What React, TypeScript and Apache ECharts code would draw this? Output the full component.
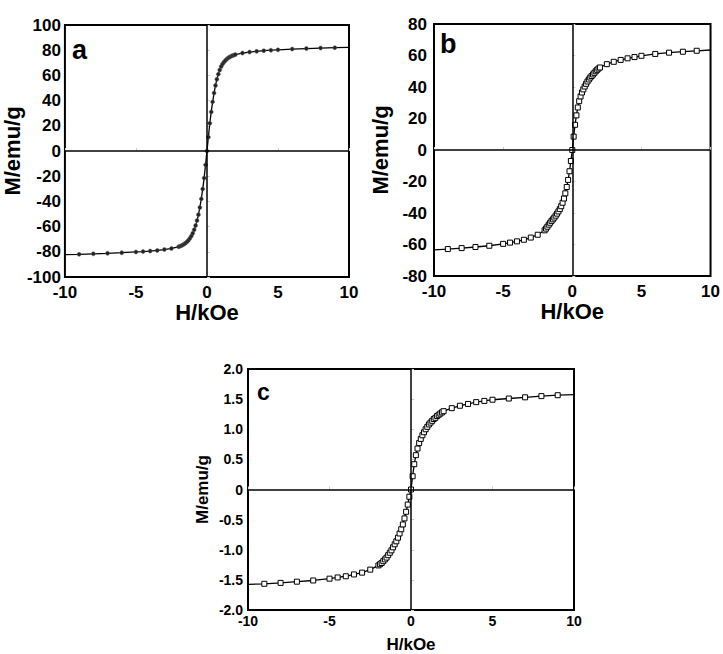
import React, { useEffect, useRef } from 'react';
import * as echarts from 'echarts';

const H = [-10, -9, -8, -7, -6, -5, -4.5, -4, -3.5, -3, -2.5,
  -2, -1.9, -1.8, -1.7, -1.6, -1.5, -1.4, -1.3, -1.2, -1.1, -1, -0.9, -0.8, -0.7, -0.6, -0.5, -0.4, -0.3, -0.2, -0.1,
  0,
  0.1, 0.2, 0.3, 0.4, 0.5, 0.6, 0.7, 0.8, 0.9, 1, 1.1, 1.2, 1.3, 1.4, 1.5, 1.6, 1.7, 1.8, 1.9, 2,
  2.5, 3, 3.5, 4, 4.5, 5, 6, 7, 8, 9, 10];

const M_A = [-82.3, -82, -81.6, -81.2, -80.7, -80.1, -79.8, -79.4, -78.9, -78.2, -77.3,
  -76, -75.6, -75.1, -74.5, -73.8, -73, -72, -70.8, -69.3, -67.4, -65.2, -62.5, -59.2, -55.2, -50.5, -44.8, -38, -30.2, -21.5, -11,
  0,
  11, 22, 31, 39, 46, 52, 57, 61, 64.3, 67, 69, 70.6, 71.9, 73, 73.9, 74.6, 75.2, 75.7, 76.1, 76.5,
  77.7, 78.5, 79.1, 79.6, 80, 80.3, 80.9, 81.3, 81.7, 82, 82.3];

const M_B = [-63.4, -62.9, -62.3, -61.6, -60.8, -59.6, -58.8, -58, -57, -55.6, -53.8,
  -51, -49.9, -48.7, -47.4, -46.2, -45, -44, -42.9, -41.7, -40.4, -39, -37.5, -35.7, -33.5, -30.8, -27.5, -23.5, -19, -13.5, -7,
  0,
  8.5, 16, 22, 27, 31, 34, 36.5, 38.5, 40.3, 42, 43.5, 44.8, 46, 47, 48, 49, 50, 50.9, 51.7, 52.4,
  54.5, 56, 57.2, 58.2, 59, 59.8, 61, 61.8, 62.4, 63, 63.5];

const M_C = [-1.575, -1.565, -1.55, -1.53, -1.51, -1.48, -1.46, -1.44, -1.41, -1.38, -1.33,
  -1.26, -1.24, -1.22, -1.19, -1.16, -1.13, -1.09, -1.05, -1.01, -0.96, -0.91, -0.86, -0.8, -0.73, -0.66, -0.58, -0.48, -0.37, -0.25, -0.12,
  0,
  0.22, 0.42, 0.57, 0.68, 0.77, 0.84, 0.9, 0.95, 1.0, 1.04, 1.08, 1.11, 1.14, 1.17, 1.19, 1.22, 1.24, 1.26, 1.28, 1.3,
  1.35, 1.39, 1.42, 1.45, 1.47, 1.49, 1.51, 1.53, 1.55, 1.565, 1.575];

const PANEL_LETTERS = ['a', 'b', 'c'];
const X_NAME = 'H/kOe';
const Y_NAME = 'M/emu/g';

const FONT = '"Liberation Sans", Arial, sans-serif';

function makeData(m: number[]) {
  return H.map((h, i) => (Math.abs(h) === 10 ? { value: [h, m[i]], symbol: 'none' } : { value: [h, m[i]] }));
}

export default function App() {
  const ref = useRef<HTMLDivElement>(null);
  useEffect(() => {
    const chart = echarts.init(ref.current!, null, { renderer: 'svg' });
    const grids = [
      { left: 63, top: 25, width: 286, height: 252 },
      { left: 434, top: 24, width: 287, height: 252 },
      { left: 248, top: 369, width: 326, height: 244 },
    ];
    const lblSize = [17, 17, 14];
    const nameSize = [22, 22, 17];
    const yMin = [-100, -80, -2];
    const yMax = [100, 80, 2];
    const yInt = [20, 20, 0.5];
    const yLabelMargin = [4, 7, 5];
    const yNameGap = [41, 43, 37];
    const xLabelMargin = [7, 7, 4];
    const xNameGap = [22, 22, 26];
    const datasets = [M_A, M_B, M_C];

    const option: any = {
      animation: false,
      backgroundColor: '#fff',
      grid: grids.map((g) => ({ ...g, show: true, borderColor: '#000', borderWidth: 2, backgroundColor: 'transparent', containLabel: false })),
      xAxis: grids.map((_, i) => ({
        type: 'value', gridIndex: i, min: -10, max: 10, interval: 5,
        axisLine: { show: false },
        axisTick: { show: true, inside: true, length: 3, lineStyle: { color: '#ccc' } },
        axisLabel: { color: '#000', fontWeight: 'bold', fontSize: lblSize[i], fontFamily: FONT, margin: xLabelMargin[i] },
        splitLine: { show: false },
        name: X_NAME, nameLocation: 'middle', nameGap: xNameGap[i],
        nameTextStyle: { color: '#000', fontWeight: 'bold', fontSize: nameSize[i], fontFamily: FONT },
      })),
      yAxis: grids.map((_, i) => ({
        type: 'value', gridIndex: i, min: yMin[i], max: yMax[i], interval: yInt[i],
        axisLine: { show: false },
        axisTick: { show: true, inside: true, length: 3, lineStyle: { color: '#ccc' } },
        axisLabel: {
          color: '#000', fontWeight: 'bold', fontSize: lblSize[i], fontFamily: FONT, margin: yLabelMargin[i],
          formatter: i === 2 ? (v: number) => (v === 0 ? '0' : v.toFixed(1)) : undefined,
        },
        splitLine: { show: false },
        name: Y_NAME, nameLocation: 'middle', nameGap: yNameGap[i],
        nameTextStyle: { color: '#000', fontWeight: 'bold', fontSize: nameSize[i], fontFamily: FONT },
      })),
      series: datasets.map((m, i) => ({
        type: 'line', xAxisIndex: i, yAxisIndex: i,
        data: makeData(m),
        showSymbol: true, showAllSymbol: true,
        symbol: i === 0 ? 'circle' : 'rect',
        symbolSize: i === 0 ? 4 : 5,
        lineStyle: { color: '#000', width: 1.3 },
        itemStyle: i === 0 ? { color: '#222', borderColor: '#666', borderWidth: 0.5 } : { color: '#fff', borderColor: '#000', borderWidth: 1 },
        markLine: {
          silent: true, symbol: 'none', label: { show: false },
          lineStyle: { color: '#000', width: 1.5, type: 'solid' },
          data: [{ xAxis: 0 }, { yAxis: 0 }],
        },
        z: 3,
      })),
      graphic: [
        { type: 'text', left: 72, top: 36, style: { text: PANEL_LETTERS[0], font: `bold 27px ${FONT}`, fill: '#000' } },
        { type: 'text', left: 440, top: 30, style: { text: PANEL_LETTERS[1], font: `bold 27px ${FONT}`, fill: '#000' } },
        { type: 'text', left: 257, top: 380, style: { text: PANEL_LETTERS[2], font: `bold 23px ${FONT}`, fill: '#000' } },
      ],
    };
    chart.setOption(option);
    return () => chart.dispose();
  }, []);
  return <div ref={ref} style={{ position: 'fixed', left: 0, top: 0, width: 723, height: 654, background: '#fff' }} />;
}
